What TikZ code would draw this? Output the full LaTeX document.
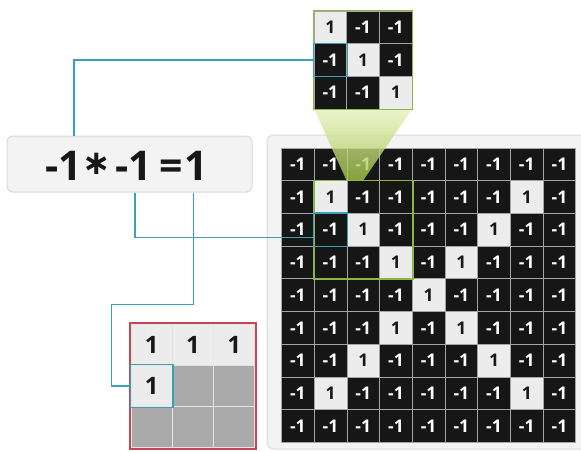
\documentclass[tikz,border=0pt]{standalone}
\usepackage{fontspec}
\setmainfont{Open Sans}
\newfontfamily\symfont{DejaVu Sans}
\usetikzlibrary{calc}

\definecolor{linkteal}{RGB}{58,160,186}
\definecolor{kgreen}{RGB}{140,182,72}
\definecolor{kred}{RGB}{192,72,88}
\definecolor{cellblack}{RGB}{22,22,22}
\definecolor{celllight}{RGB}{236,236,236}
\definecolor{cellgray}{RGB}{170,170,170}
\definecolor{sepgray}{RGB}{165,165,165}
\definecolor{outsep}{RGB}{228,228,228}
\definecolor{panelfill}{RGB}{243,243,243}
\definecolor{paneldraw}{RGB}{218,218,218}
\definecolor{textdark}{RGB}{24,24,24}
\definecolor{fnltop}{RGB}{232,240,190}
\definecolor{fnlbot}{RGB}{160,198,72}

\begin{document}
\begin{tikzpicture}[x=1pt, y=-1pt,
  cellbase/.style={rectangle, inner sep=0pt, minimum size=32.7pt, draw=sepgray,
                   line width=0.8pt, font=\fontsize{17.5}{17.5}\selectfont\bfseries},
  negcell/.style={cellbase, fill=cellblack, text=white},
  poscell/.style={cellbase, fill=celllight, text=textdark},
  outcell/.style={rectangle, inner sep=0pt, minimum size=41.3pt, draw=outsep,
                  line width=1.5pt, font=\fontsize{24}{24}\selectfont\bfseries, text=textdark},
  term/.style={inner sep=0pt, anchor=base, font=\fontsize{41}{41}\selectfont\bfseries, text=textdark},
  panel/.style={rectangle, rounded corners=7pt, fill=panelfill, draw=paneldraw, line width=1pt},
  lnk/.style={draw=linkteal, line width=1.2pt},
  kframe/.style={draw=kgreen, line width=1.6pt},
  oframe/.style={draw=kred, line width=1.8pt},
]
\useasboundingbox (0,0) rectangle (581,452);
\clip (0,0) rectangle (581,452);

% ------------------------------------------------------------ backgrounds
\node[panel, minimum width=340pt, minimum height=314pt] (board) at (437,292) {};
\node[panel, rounded corners=6pt, minimum width=245pt, minimum height=56pt] (eqbox) at (129.5,164) {};

% ------------------------------------------------------------ equation
\node[term] (t1) at (64,180) {-1};
\node[term, font=\fontsize{34}{34}\selectfont\symfont\bfseries, yshift=6pt] (op) at (96.5,180) {∗};
\node[term] (t2) at (134,180) {-1};
\node[term] (eq) at (171,180) {=};
\node[term] (t3) at (196.5,180) {1};

% ------------------------------------------------------------ 9x9 image
\foreach \r in {1,...,9}{
  \foreach \c in {1,...,9}{
    \pgfmathtruncatemacro\isone{(\r>1 && \r<9 && (\c==\r || \c==10-\r)) ? 1 : 0}
    \ifnum\isone=1
      \node[poscell] (g-\r-\c) at ({281.5+(\c-0.5)*32.7},{148+(\r-0.5)*32.7}) {1};
    \else
      \node[negcell] (g-\r-\c) at ({281.5+(\c-0.5)*32.7},{148+(\r-0.5)*32.7}) {-1};
    \fi
  }
}
\draw[kframe] (g-2-2.north west) rectangle (g-4-4.south east);
\draw[lnk] (g-3-2.north west) rectangle (g-3-2.south east);

% ------------------------------------------------------------ filter
\shade[top color=fnltop, bottom color=fnlbot, opacity=0.8]
  (314,109) -- (412,109) -- (g-2-3.north) -- (g-2-3.north west) -- cycle;
\foreach \r in {1,2,3}{
  \foreach \c in {1,2,3}{
    \ifnum\r=\c
      \node[poscell] (k-\r-\c) at ({314+(\c-0.5)*32.7},{11+(\r-0.5)*32.7}) {1};
    \else
      \node[negcell] (k-\r-\c) at ({314+(\c-0.5)*32.7},{11+(\r-0.5)*32.7}) {-1};
    \fi
  }
}
\draw[kframe] (k-1-1.north west) rectangle (k-3-3.south east);
\draw[lnk] (k-2-1.north west) rectangle (k-2-1.south east);

% ------------------------------------------------------------ feature map
\foreach \r in {1,2,3}{
  \foreach \c in {1,2,3}{
    \pgfmathtruncatemacro\filled{(\r==1 || (\r==2 && \c==1)) ? 1 : 0}
    \ifnum\filled=1
      \node[outcell, fill=celllight] (o-\r-\c) at ({131+(\c-0.5)*41.33},{324+(\r-0.5)*41.33}) {1};
    \else
      \node[outcell, fill=cellgray] (o-\r-\c) at ({131+(\c-0.5)*41.33},{324+(\r-0.5)*41.33}) {};
    \fi
  }
}
\draw[oframe] (o-1-1.north west) rectangle (o-3-3.south east);
\draw[lnk] (o-2-1.north west) rectangle (o-2-1.south east);

% ------------------------------------------------------------ connectors
\coordinate (p1) at ([xshift=10pt]t1.base);
\coordinate (p2) at ([xshift=1pt]t2.base);
\coordinate (p3) at ([xshift=-3pt]t3.base);
\coordinate (elbow) at ($(o-1-1.north west)+(-19,-19)$);

\draw[lnk] (p1 |- eqbox.north) |- (k-2-1.west);
\draw[lnk] (p2 |- eqbox.south) |- ([yshift=-8pt]g-3-2.west);
\draw[lnk] (p3 |- eqbox.south) |- (elbow) |- (o-2-1.west);
\end{tikzpicture}
\end{document}
